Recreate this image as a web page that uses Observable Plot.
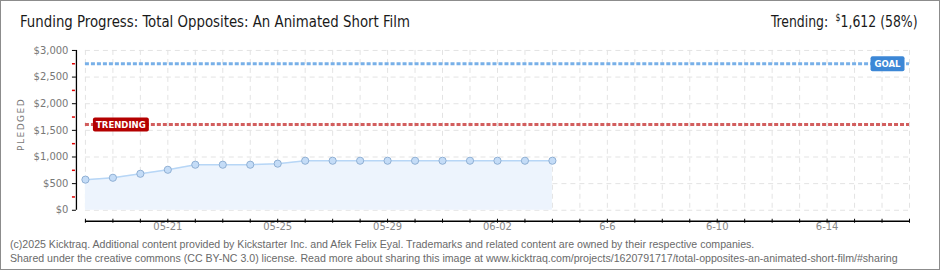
<!DOCTYPE html>
<html><head><meta charset="utf-8">
<script src="https://cdn.jsdelivr.net/npm/d3@7"></script>
<script src="https://cdn.jsdelivr.net/npm/@observablehq/plot@0.6"></script>
<style>
body{margin:0;background:#fff;}
#wrap{position:relative;width:940px;height:270px;box-sizing:border-box;border:1px solid #8c8c8c;overflow:hidden;background:#fff;}
#title{position:absolute;left:19px;top:11px;font-size:16px;font-family:"Liberation Sans Narrow","DejaVu Sans Condensed","Liberation Sans",sans-serif;color:#1a1a1a;white-space:nowrap;transform:scaleX(0.925);transform-origin:0 50%;}
#trend{position:absolute;right:21px;top:11px;font-size:16px;font-family:"Liberation Sans Narrow","DejaVu Sans Condensed","Liberation Sans",sans-serif;color:#1a1a1a;white-space:nowrap;transform:scaleX(0.865);transform-origin:100% 50%;}
#trend sup{font-size:10px;vertical-align:6px;margin-left:4px;}
#pledged{position:absolute;left:-1px;top:129px;width:42px;text-align:center;transform:translate(0,-50%) rotate(-90deg);font:9px "DejaVu Sans",sans-serif;letter-spacing:1.5px;color:#777;}
#plot{position:absolute;left:-1px;top:-1px;}
.foot{position:absolute;left:9px;font:10.6px "Liberation Sans",sans-serif;color:#6a6a6a;white-space:nowrap;}
</style>
</head><body>
<div id="wrap">
  <div id="plot"></div>
  <div id="title"></div>
  <div id="trend"></div>
  <div id="pledged">PLEDGED</div>
  <div class="foot" id="foot1" style="top:237px"></div>
  <div class="foot" id="foot2" style="top:251px"></div>
</div>
<script>
const titleText = "Funding Progress: Total Opposites: An Animated Short Film";
const trendingLabel = "Trending:";
const trendingValue = 1612;
const trendingPct = "58%";
const goalValue = 2750;
const footLines = [
  "(c)2025 Kicktraq. Additional content provided by Kickstarter Inc. and Afek Felix Eyal. Trademarks and related content are owned by their respective companies.",
  "Shared under the creative commons (CC BY-NC 3.0) license. Read more about sharing this image at www.kicktraq.com/projects/1620791717/total-opposites-an-animated-short-film/#sharing"
];

const days = ["2025-05-18","2025-05-19","2025-05-20","2025-05-21","2025-05-22","2025-05-23","2025-05-24","2025-05-25","2025-05-26","2025-05-27","2025-05-28","2025-05-29","2025-05-30","2025-05-31","2025-06-01","2025-06-02","2025-06-03","2025-06-04"];
const pledged = [575, 610, 685, 760, 855, 855, 855, 875, 930, 930, 930, 930, 930, 930, 930, 930, 930, 930];
const xStart = "2025-05-18";
const xEnd = "2025-06-17";
const tickDates = ["2025-05-21","2025-05-25","2025-05-29","2025-06-02","2025-06-06","2025-06-10","2025-06-14"];
const tickLabels = ["05-21","05-25","05-29","06-02","6-6","6-10","6-14"];
const yTicks = [0, 500, 1000, 1500, 2000, 2500, 3000];
const yMinorTicks = [250, 750, 1250, 1750, 2250, 2750];
const yMax = 3000;

document.getElementById("title").textContent = titleText;
document.getElementById("trend").innerHTML = trendingLabel + " <sup>$</sup>" + d3.format(",")(trendingValue) + " (" + trendingPct + ")";
document.getElementById("foot1").textContent = footLines[0];
document.getElementById("foot2").textContent = footLines[1];

const parse = d3.utcParse("%Y-%m-%d");
const data = days.map((d, i) => ({date: parse(d), pledged: pledged[i]}));
const x0 = parse(xStart), x1 = parse(xEnd);
const allDays = d3.utcDay.range(x0, d3.utcDay.offset(x1, 1));
const labelMap = new Map(tickDates.map((d, i) => [+parse(d), tickLabels[i]]));
const labelDates = tickDates.map(parse);

function boxSymbol(w, h, r) {
  return {draw(ctx) {
    const x = -w / 2, y = -h / 2;
    ctx.moveTo(x + r, y);
    ctx.lineTo(x + w - r, y);
    ctx.arcTo(x + w, y, x + w, y + r, r);
    ctx.lineTo(x + w, y + h - r);
    ctx.arcTo(x + w, y + h, x + w - r, y + h, r);
    ctx.lineTo(x + r, y + h);
    ctx.arcTo(x, y + h, x, y + h - r, r);
    ctx.lineTo(x, y + r);
    ctx.arcTo(x, y, x + r, y, r);
    ctx.closePath();
  }};
}
const refs = [
  {label: "GOAL", value: goalValue, color: "#3c87d6", line: "#78b0e8", anchor: "right", dx: -22, w: 34, h: 15},
  {label: "TRENDING", value: trendingValue, color: "#b40000", line: "#d25e5e", anchor: "left", dx: 35.5, w: 56, h: 14}
];

const fmt = d3.format(",");
const chart = Plot.plot({
  width: 940, height: 240,
  marginLeft: 85, marginRight: 30, marginTop: 50, marginBottom: 30,
  style: {background: "transparent", fontFamily: "'DejaVu Sans', sans-serif", fontSize: "10px"},
  x: {type: "utc", domain: [x0, x1]},
  y: {domain: [0, yMax]},
  marks: [
    Plot.ruleY(yTicks, {stroke: "#e3e3e3", strokeDasharray: "5,4"}),
    Plot.ruleX(allDays, {stroke: "#e3e3e3", strokeDasharray: "5,4"}),
    Plot.areaY(data, {x: "date", y: "pledged", fill: "#edf4fd"}),
    Plot.lineY(data, {x: "date", y: "pledged", stroke: "#b7d6f6", strokeWidth: 1.5}),
    ...refs.map(r => Plot.ruleY([r.value], {stroke: r.line, strokeWidth: 3, strokeDasharray: "4,2"})),
    Plot.dot(data, {x: "date", y: "pledged", r: 3.6, fill: "#c4dcf7", stroke: "#8fafd3", strokeWidth: 1}),
    ...refs.map(r => Plot.dot([r], {y: "value", frameAnchor: r.anchor, dx: r.dx, symbol: boxSymbol(r.w, r.h, 2), r: 5, fill: r.color, stroke: null})),
    ...refs.map(r => Plot.text([r], {y: "value", frameAnchor: r.anchor, dx: r.dx, dy: 0.5, text: "label", fill: "white", fontWeight: "bold", fontSize: 9.5, fontFamily: "'Liberation Sans Narrow','DejaVu Sans Condensed','Liberation Sans',sans-serif", textAnchor: "middle"})),
    // y axis
    Plot.ruleX([x0], {dx: -9, stroke: "#000", strokeWidth: 1.3}),
    Plot.axisY(yTicks, {anchor: "left", tickSize: 4, tickPadding: 4, dx: -9, stroke: "#000", fill: "#777", tickFormat: d => "$" + fmt(d), label: null}),
    Plot.axisY(yMinorTicks, {anchor: "left", tickSize: 3, dx: -10, stroke: "#e00000", strokeWidth: 1.5, fill: "none", label: null}),
    // x axis
    Plot.ruleY([0], {dy: 11, stroke: "#000", strokeWidth: 1.3}),
    Plot.axisX(allDays, {anchor: "bottom", tickSize: 4, dy: 9, stroke: "#000", fill: "none", label: null}),
    Plot.axisX(labelDates, {anchor: "bottom", tickSize: 0, tickPadding: 0, dy: 13, stroke: "none", fill: "#888", tickFormat: d => labelMap.get(+d), label: null})
  ]
});
document.getElementById("plot").appendChild(chart);
</script>
</body></html>
